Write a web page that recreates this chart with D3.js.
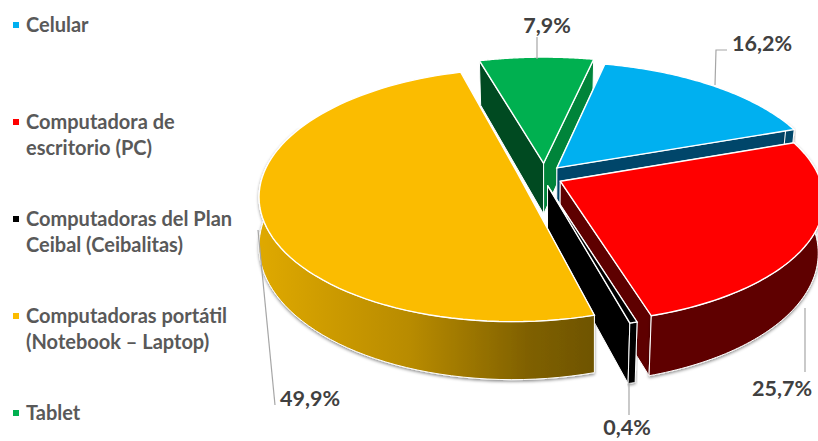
<!DOCTYPE html>
<html><head><meta charset="utf-8">
<script src="https://cdn.jsdelivr.net/npm/d3@7"></script>
<style>html,body{margin:0;background:#fff}svg{display:block}text{font-family:Lato,"Open Sans",sans-serif;font-weight:700}</style>
</head><body><svg id="c" width="818" height="441"></svg>
<script>
const categories = ["Celular","Computadora de escritorio (PC)","Computadoras del Plan Ceibal (Ceibalitas)","Computadoras portátil (Notebook – Laptop)","Tablet"];
const legendLines = [["Celular"],["Computadora de","escritorio (PC)"],["Computadoras del Plan","Ceibal (Ceibalitas)"],["Computadoras portátil","(Notebook – Laptop)"],["Tablet"]];
const values = [16.2,25.7,0.4,49.9,7.9];
const valueLabels = ["16,2%","25,7%","0,4%","49,9%","7,9%"];
const topColors = ["#00B0F0","#FF0000","#000000","#FBBC00","#00B050"];
const startWallColors = ["#00465F","#5E0000","#000000","#7A5C00","#004A21"];
const endWallColors = ["#00466A","#5E0000","#000000","#7A5C00","#00843A"];
const outerColors = ["#00466A","#5E0000","#000000","url(#yw)","#005A2A"];
const drawOrder = [4,0,1,2,3];
// per-slice fine adjustment of the projected wedge
const sliceScale = [1.03,1,1,1,1.04];
const sliceShiftX = [1,-1,0,-3.3,3];
const sliceShiftY = [0,1,0,-6,-2];
const persp = [1/7,1/7,1/7,0.18,1/7];
const radiusX = [259,259,259,252,259];
const radiusY = [120,120,120,121.3,120];
const depth = [51.4,51.4,51.4,47.3,51.4];
const taper = [0.02,0.02,0.02,0,0.02];

const svg = d3.select("#c");
const defs = svg.append("defs");
const g = defs.append("linearGradient").attr("id","yw").attr("gradientUnits","userSpaceOnUse")
  .attr("x1",258).attr("x2",597).attr("y1",0).attr("y2",0);
[[0,"#DFA900"],[0.45,"#B88B00"],[0.8,"#7F6000"],[1,"#6E5400"]].forEach(s=>g.append("stop").attr("offset",s[0]).attr("stop-color",s[1]));
const f = defs.append("filter").attr("id","sh").attr("x","-10%").attr("y","-10%").attr("width","120%").attr("height","125%");
f.append("feDropShadow").attr("dx",0).attr("dy",1.5).attr("stdDeviation",1.5).attr("flood-color","#000").attr("flood-opacity",0.45);

// perspective projection of the pie plane
const cx=541.3, cy=175.5, EXPLODE=0.086;
function project(u,v,h,i){
  const d=1-persp[i]*v;
  return [cx+sliceShiftX[i]+radiusX[i]*u*(1-taper[i]*h)/d, cy+sliceShiftY[i]+(radiusY[i]*v+depth[i]*h)/d];
}
const start=12.4*Math.PI/180;
const pie = d3.pie().sort(null).startAngle(start).endAngle(start+2*Math.PI);
const arcs = pie(values);
const line = d3.line();
function pt(a,r,h,i){ // a clockwise from top
  const arc=arcs[i], mid=(arc.startAngle+arc.endAngle)/2, s=sliceScale[i];
  return project(Math.sin(a)*r*s+Math.sin(mid)*EXPLODE, -Math.cos(a)*r*s-Math.cos(mid)*EXPLODE, h, i);
}
const angles=i=>{const a=arcs[i],n=80;return d3.range(n+1).map(k=>a.startAngle+(a.endAngle-a.startAngle)*k/n);};
const WS="#fff";
const pieG=svg.append("g");
drawOrder.forEach(i=>{
  const a=arcs[i], gg=pieG.append("g");
  const wall=(ang,col)=>gg.append("path").attr("d",line([pt(ang,0,0,i),pt(ang,1,0,i),pt(ang,1,1,i),pt(ang,0,1,i)])+"Z")
    .attr("fill",col).attr("stroke",WS).attr("stroke-width",1).attr("stroke-linejoin","round");
  wall(a.startAngle,startWallColors[i]);
  wall(a.endAngle,endWallColors[i]);
  const front=angles(i).filter(t=>Math.cos(t)<0.4);
  if(front.length>1){
    const up=front.map(t=>pt(t,1,0,i)), low=front.map(t=>pt(t,1,1,i)).reverse();
    gg.append("path").attr("d",line(up.concat(low))+"Z").attr("fill",outerColors[i]).attr("stroke",WS).attr("stroke-width",1)
      .attr("filter","url(#sh)");
  }
  const top=angles(i).map(t=>pt(t,1,0,i));
  gg.append("path").attr("d",line([pt(0,0,0,i)].concat(top))+"Z").attr("fill",topColors[i])
    .attr("stroke",WS).attr("stroke-width",1.4).attr("stroke-linejoin","miter");
});

// leaders
const leaders=[[[727,50],[716,50],[715,85]],[[805,372],[805,308]],[[629,415],[629,383]],[[275,405],[258,230]],[[537,37],[537,59]]];
svg.append("g").selectAll("path").data(leaders).join("path").attr("d",d=>line(d)).attr("fill","none").attr("stroke","#A6A6A6").attr("stroke-width",1.2);

// data labels
const labelPos=[[762,43],[782,388],[627,427],[310,398],[547,25]];
svg.append("g").selectAll("text").data(valueLabels).join("text")
  .attr("x",(d,i)=>labelPos[i][0]).attr("y",(d,i)=>labelPos[i][1]).attr("dy","0.35em").attr("text-anchor","middle")
  .attr("font-size",21.5).attr("fill","#404040").text(d=>d);

// legend
const ly=d3.scalePoint().domain(categories).range([25,413]);
const lg=svg.append("g").selectAll("g").data(categories).join("g").attr("transform",d=>`translate(0,${ly(d)})`);
lg.append("rect").attr("x",13).attr("y",-3).attr("width",6).attr("height",6).attr("fill",(d,i)=>topColors[i]);
lg.each(function(d,i){
  d3.select(this).selectAll("text").data(legendLines[i]).join("text")
    .attr("x",26).attr("y",(t,j)=>j*26).attr("dy","0.35em").attr("font-size",20).attr("fill","#595959").text(t=>t);
});
</script></body></html>
